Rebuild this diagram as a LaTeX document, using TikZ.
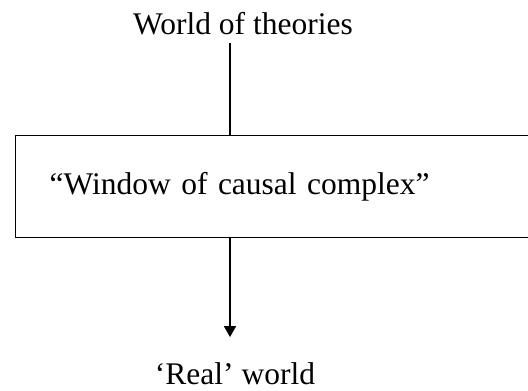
\documentclass[tikz,border=0pt]{standalone}
\usepackage{fontspec}
\setmainfont{Liberation Serif}
\usetikzlibrary{arrows.meta}
\tikzset{
  worldtext/.style={font=\fontsize{22.4}{27}\selectfont, anchor=base, inner sep=0pt},
  windowbox/.style={draw, line width=0.9pt, anchor=north west,
                    minimum width=13.2cm, minimum height=2.55cm,
                    text width=11.5cm, align=left, inner xsep=0.85cm,
                    font=\fontsize{22.4}{27}\selectfont},
  link/.style={line width=0.9pt},
}

\begin{document}
\begin{tikzpicture}
    \useasboundingbox (0,0) rectangle (13.2,9.75);
    \node[worldtext] (theories) at (6.075, 8.875) {World of theories};
    \node[windowbox] (window) at (0.375, 6.375) {``Window of causal complex''};
    \node[worldtext] (real) at (5.875, 0.13) {`Real' world};
    \coordinate (top) at (5.75, 8.675);
    \coordinate (tip) at (5.75, 1.325);
    \draw[link] (top) -- (top |- window.north);
    \draw[link, -{Triangle[length=0.27cm, width=0.3cm]}] (tip |- window.south) -- (tip);
  \end{tikzpicture}
\end{document}
